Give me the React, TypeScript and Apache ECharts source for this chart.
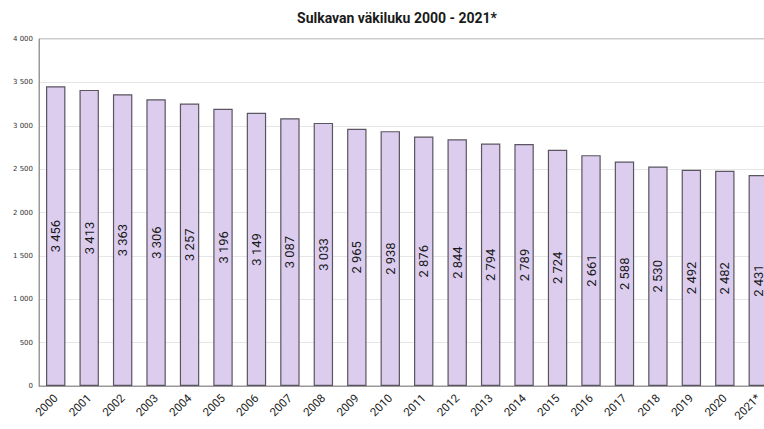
import React, { useEffect, useRef } from "react";
import * as echarts from "echarts";

const categories = ["2000","2001","2002","2003","2004","2005","2006","2007","2008","2009","2010","2011","2012","2013","2014","2015","2016","2017","2018","2019","2020","2021*"];
const population = [3456,3413,3363,3306,3257,3196,3149,3087,3033,2965,2938,2876,2844,2794,2789,2724,2661,2588,2530,2492,2482,2431];
const yTicks = { min: 0, max: 4000, interval: 500 };

const fmt = (v: number) => {
  const s = String(Math.round(v));
  return s.replace(/\B(?=(\d{3})+(?!\d))/g, " ");
};

export default function App() {
  const ref = useRef<HTMLDivElement>(null);
  useEffect(() => {
    if (!ref.current) return;
    const chart = echarts.init(ref.current, null, { renderer: "svg" });
    chart.setOption({
      animation: false,
      backgroundColor: "#ffffff",
      title: {
        text: "Sulkavan väkiluku 2000 - 2021*",
        left: 392,
        top: 6,
        textAlign: "center",
        textStyle: { fontFamily: "Roboto", fontSize: 14, fontWeight: "bold", color: "#1a1a1a" },
      },
      grid: { left: 39, top: 39, bottom: 43, right: 0, show: true, borderColor: "#999", borderWidth: 1, backgroundColor: "transparent" },
      xAxis: {
        type: "category",
        data: categories,
        axisLine: { lineStyle: { color: "#999" } },
        axisTick: { show: false },
        axisLabel: { rotate: 45, fontFamily: "Roboto", fontSize: 11.5, color: "#222", margin: 10, interval: 0 },
      },
      yAxis: {
        type: "value",
        min: yTicks.min,
        max: yTicks.max,
        interval: yTicks.interval,
        axisLine: { show: true, lineStyle: { color: "#999" } },
        axisTick: { show: false },
        splitLine: { lineStyle: { color: "#e6e6e6" } },
        axisLabel: { fontFamily: "DejaVu Sans", fontSize: 7, color: "#333", margin: 6, formatter: (v: number) => fmt(v) },
      },
      series: [
        {
          type: "bar",
          data: population,
          barWidth: "58%",
          itemStyle: { color: "#dccdef", borderColor: "#5a5560", borderWidth: 1.2 },
          label: {
            show: true,
            position: "inside",
            rotate: 90,
            fontFamily: "Roboto",
            fontSize: 13,
            color: "#1a1a1a",
            formatter: (p: any) => fmt(p.value),
          },
        },
      ],
    });
    return () => chart.dispose();
  }, []);
  return (
    <div style={{ position: "fixed", left: 0, top: 0, width: 764, height: 429, overflow: "hidden", background: "#fff" }}>
      <div ref={ref} style={{ width: 775, height: 429 }} />
    </div>
  );
}
